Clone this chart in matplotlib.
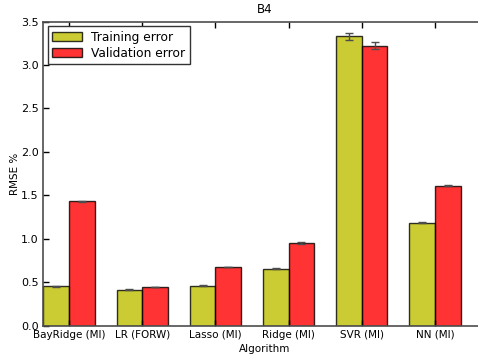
import matplotlib
matplotlib.use("Agg")
import matplotlib.pyplot as plt
import numpy as np

algorithms = ["BayRidge (MI)", "LR (FORW)", "Lasso (MI)", "Ridge (MI)", "SVR (MI)", "NN (MI)"]
train_err = [0.454, 0.415, 0.461, 0.657, 3.33, 1.183]
val_err = [1.429, 0.446, 0.676, 0.949, 3.22, 1.609]
train_std = [0.008, 0.004, 0.008, 0.010, 0.04, 0.005]
val_std = [0.008, 0.003, 0.005, 0.012, 0.04, 0.006]

fig = plt.figure(figsize=(4.78, 3.59), dpi=100)
left_px, right_px = 43, 487
ax = fig.add_axes([left_px/478, 1 - 325.7/359, (right_px - left_px)/478, (325.7 - 21.5)/359])

x = np.arange(len(algorithms))
w = 0.35
err_kw = dict(ecolor='0.3', capsize=3, elinewidth=1, capthick=1)
ax.bar(x - w/2, train_err, w, yerr=train_std, color='y', alpha=0.8, edgecolor='k',
       linewidth=1, error_kw=err_kw, label='Training error')
ax.bar(x + w/2, val_err, w, yerr=val_std, color='r', alpha=0.8, edgecolor='k',
       linewidth=1, error_kw=err_kw, label='Validation error')

ppu = 73.2
ax.set_xlim(-(69 - left_px)/ppu, 5 + (right_px - 435)/ppu)
ax.set_ylim(0, 3.5)
ax.set_xticks(x)
ax.set_xticklabels(algorithms, fontsize=7.5)
yt = np.arange(0, 3.51, 0.5)
ax.set_yticks(yt)
ax.set_yticklabels([f"{v:.1f}" for v in yt], fontsize=8)
ax.tick_params(direction='in', top=True, right=True, length=4, width=1, pad=3)
for s in ax.spines.values():
    s.set_color('0.3')
    s.set_linewidth(1.2)
ax.set_xlabel("Algorithm", fontsize=7.5, labelpad=3)
ax.set_ylabel("RMSE %", fontsize=7.5, labelpad=1)
ax.set_title("B4", fontsize=8.5, pad=6)
leg = ax.legend(loc='upper left', fontsize=8.8, fancybox=False, edgecolor='0.2',
                borderaxespad=0.4, handlelength=2.4, handleheight=0.8, framealpha=1,
                labelspacing=0.25, borderpad=0.35, handletextpad=0.8)
leg.get_frame().set_linewidth(1)
fig.savefig("out.png", dpi=100)
